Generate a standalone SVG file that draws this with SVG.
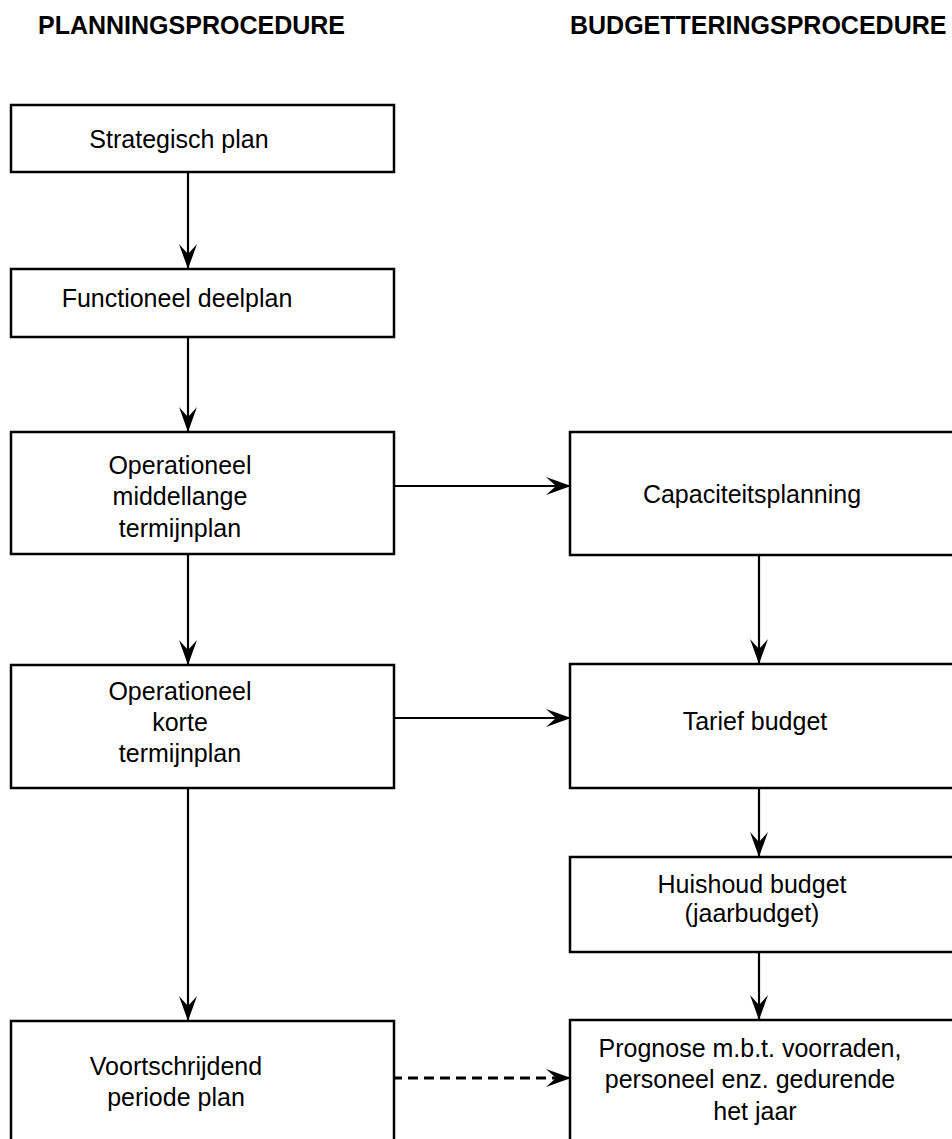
<svg xmlns="http://www.w3.org/2000/svg" width="952" height="1139" viewBox="0 0 952 1139">
<style>
.box{fill:#fff;stroke:#000;stroke-width:2.5}
.t{font-family:"Liberation Sans",Arial,sans-serif;font-size:25px;fill:#000;text-anchor:middle}
.h{font-family:"Liberation Sans",Arial,sans-serif;font-size:25px;font-weight:bold;fill:#000}
.c{stroke:#000;stroke-width:2.2;fill:none}
.d{stroke:#000;stroke-width:2.8;fill:none;stroke-dasharray:10 6}
</style>
<defs>
<marker id="ah" markerUnits="userSpaceOnUse" markerWidth="28" markerHeight="22" viewBox="-27 -11 28 22" refX="0" refY="0" orient="auto">
<path d="M0,0 L-25,-9 L-15,0 L-25,9 Z" fill="#000"/>
</marker>
</defs>
<rect width="952" height="1139" fill="#fff"/>
<text class="h" x="38" y="34">PLANNINGSPROCEDURE</text>
<text class="h" x="570" y="34">BUDGETTERINGSPROCEDURE</text>
<g id="connectors">
<line class="c" x1="188" y1="172" x2="188" y2="269" marker-end="url(#ah)"/>
<line class="c" x1="188" y1="337" x2="188" y2="432" marker-end="url(#ah)"/>
<line class="c" x1="188" y1="554" x2="188" y2="665" marker-end="url(#ah)"/>
<line class="c" x1="188" y1="788" x2="188" y2="1021" marker-end="url(#ah)"/>
<line class="c" x1="392" y1="486" x2="571" y2="486" marker-end="url(#ah)"/>
<line class="c" x1="392" y1="718" x2="571" y2="718" marker-end="url(#ah)"/>
<line class="d" x1="392" y1="1078" x2="560" y2="1078"/>
<line class="c" x1="556" y1="1078" x2="571" y2="1078" marker-end="url(#ah)"/>
<line class="c" x1="759" y1="555" x2="759" y2="664" marker-end="url(#ah)"/>
<line class="c" x1="759" y1="788" x2="759" y2="857" marker-end="url(#ah)"/>
<line class="c" x1="759" y1="952" x2="759" y2="1020" marker-end="url(#ah)"/>
</g>
<g id="strategisch">
<rect class="box" x="11" y="105" width="383" height="67"/>
<text class="t" x="179" y="148">Strategisch plan</text>
</g>
<g id="functioneel">
<rect class="box" x="11" y="269" width="383" height="68"/>
<text class="t" x="177" y="307">Functioneel deelplan</text>
</g>
<g id="middellange">
<rect class="box" x="11" y="432" width="383" height="122"/>
<text class="t" x="180" y="474">Operationeel</text>
<text class="t" x="180" y="505">middellange</text>
<text class="t" x="180" y="537">termijnplan</text>
</g>
<g id="korte">
<rect class="box" x="11" y="665" width="383" height="123"/>
<text class="t" x="180" y="700">Operationeel</text>
<text class="t" x="180" y="731">korte</text>
<text class="t" x="180" y="762">termijnplan</text>
</g>
<g id="voortschrijdend">
<rect class="box" x="11" y="1021" width="383" height="140"/>
<text class="t" x="176" y="1075">Voortschrijdend</text>
<text class="t" x="176" y="1106">periode plan</text>
</g>
<g id="capaciteit">
<rect class="box" x="570" y="432" width="400" height="123"/>
<text class="t" x="752" y="503">Capaciteitsplanning</text>
</g>
<g id="tarief">
<rect class="box" x="570" y="664" width="400" height="124"/>
<text class="t" x="755" y="730">Tarief budget</text>
</g>
<g id="huishoud">
<rect class="box" x="570" y="857" width="400" height="95"/>
<text class="t" x="752" y="893">Huishoud budget</text>
<text class="t" x="752" y="922">(jaarbudget)</text>
</g>
<g id="prognose">
<rect class="box" x="570" y="1020" width="400" height="140"/>
<text class="t" x="750" y="1057">Prognose m.b.t. voorraden,</text>
<text class="t" x="750" y="1088">personeel enz. gedurende</text>
<text class="t" x="755" y="1120">het jaar</text>
</g>
</svg>
